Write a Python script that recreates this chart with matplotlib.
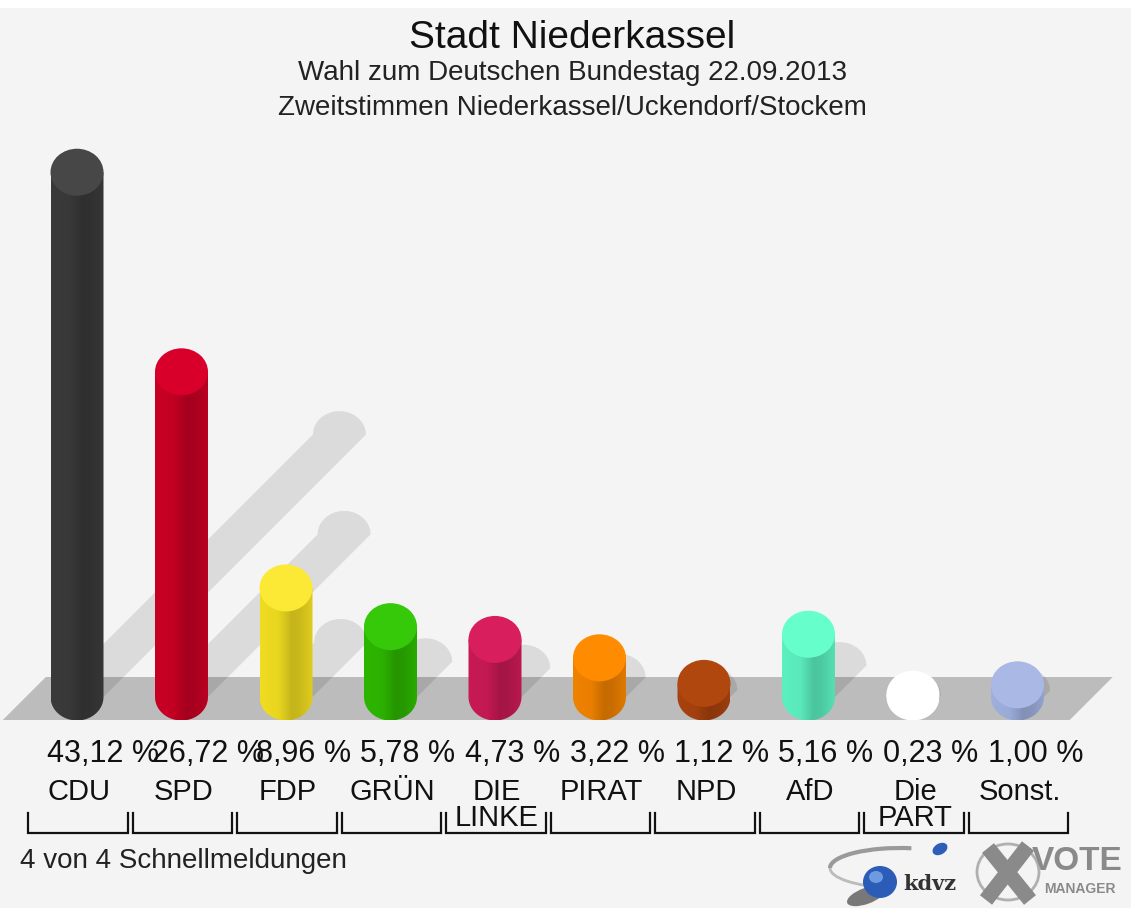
import numpy as np
import matplotlib
matplotlib.use('Agg')
import matplotlib.pyplot as plt
from matplotlib.patches import Ellipse, PathPatch, Polygon, Rectangle, Arc
from matplotlib.path import Path
from matplotlib.colors import to_rgb

plt.rcParams['font.family'] = ['Liberation Sans', 'DejaVu Sans']

titel = 'Stadt Niederkassel'
untertitel = ['Wahl zum Deutschen Bundestag 22.09.2013',
              'Zweitstimmen Niederkassel/Uckendorf/Stockem']
parteien = ['CDU', 'SPD', 'FDP', 'GRÜN', 'DIE\nLINKE', 'PIRAT', 'NPD', 'AfD', 'Die\nPART', 'Sonst.']
werte = [43.12, 26.72, 8.96, 5.78, 4.73, 3.22, 1.12, 5.16, 0.23, 1.00]
farben = ['#3a3a3a', '#c80024', '#f0dc20', '#2db600', '#c81a55',
          '#f08200', '#a8420f', '#5cf0c0', '#ffffff', '#9fb0de']
deckel = ['#474747', '#d8002a', '#fbe935', '#36c90a', '#d81e5c',
          '#ff8c00', '#b0470f', '#66ffcc', '#ffffff', '#a9b8e4']
fussnote = '4 von 4 Schnellmeldungen'

W, H = 1131, 908
PX_X = 104.5   # pixel je Kategorie
PX_Y = 12.17   # pixel je Prozentpunkt
BASIS = 697    # pixelzeile fuer 0 %

fig = plt.figure(figsize=(W / 100, H / 100), dpi=100, facecolor='#f4f4f4')
ax = fig.add_axes([0, 0, 1, 1])
ax.set_facecolor('#f4f4f4')
xlim = (-77 / PX_X, (W - 77) / PX_X)
ylim = ((BASIS - H) / PX_Y, BASIS / PX_Y)

def py(p):
    return 1 - p / H

n = len(werte)
w = 53 / PX_X          # breite der Saeule
ry = 23.5 / PX_Y       # halbe Hoehe der Ellipse

# Boden
fy0, fy1 = -23 / PX_Y, 20 / PX_Y
schraeg = 43 / PX_X
boden = Polygon([(-0.71, fy0), (n - 0.5, fy0), (n - 0.5 + schraeg, fy1), (-0.71 + schraeg, fy1)],
                closed=True, facecolor='#bcbcbc', edgecolor='none', zorder=1)
ax.add_patch(boden)

# Schatten
for i, v in enumerate(werte):
    d = v * PX_Y / 2
    dx, dy = d / PX_X, d / PX_Y
    th = np.linspace(0, np.pi, 30)
    spitze = np.column_stack([i + dx + w / 2 * np.cos(th), dy + ry * np.sin(th)])
    pts = np.vstack([[i - w / 2, 0], [i + w / 2, 0], spitze])
    ax.add_patch(Polygon(pts, closed=True, facecolor='black', alpha=0.1,
                         edgecolor='none', zorder=2))

# Saeulen
t = np.linspace(0, 1, 80)
f = np.interp(t, [0, 0.35, 0.6, 0.75, 1], [1.0, 0.97, 0.82, 0.84, 0.93])
for i, (v, c, cd) in enumerate(zip(werte, farben, deckel)):
    th = np.linspace(np.pi, 2 * np.pi, 40)
    unten = np.column_stack([i + w / 2 * np.cos(th), ry * np.sin(th)])
    pts = np.vstack([[i - w / 2, v], unten, [i + w / 2, v], [i - w / 2, v]])
    pfad = Path(pts)
    clip = PathPatch(pfad, facecolor='none', edgecolor='none', transform=ax.transData)
    ax.add_patch(clip)
    if c == '#ffffff':
        grad = np.ones((1, 80, 3))
    else:
        grad = np.clip(np.array(to_rgb(c))[None, None, :] * f[None, :, None], 0, 1)
    im = ax.imshow(grad, extent=[i - w / 2, i + w / 2, -ry, v], aspect='auto',
                   interpolation='bilinear', zorder=3)
    im.set_clip_path(clip)
    ax.add_patch(Ellipse((i, v), w, 2 * ry, facecolor=cd, edgecolor='none', zorder=4))

ax.set_xlim(*xlim)
ax.set_ylim(*ylim)
ax.axis('off')

tr = ax.get_xaxis_transform()
for i, (v, name) in enumerate(zip(werte, parteien)):
    ax.text(i - 30 / PX_X, py(754), f'{v:.2f} %'.replace('.', ','), transform=tr,
            ha='left', va='center', fontsize=22, color='#111111')
    zeilen = name.split('\n')
    ax.text(i + 0.02, py(792), zeilen[0], transform=tr, ha='center', va='center',
            fontsize=21, color='#111111')
    if len(zeilen) > 1:
        ax.text(i + 0.02, py(818), zeilen[1], transform=tr, ha='center', va='center',
                fontsize=21, color='#111111')
    l, r = i + 0.01 - 0.478, i + 0.01 + 0.478
    ax.plot([l, l, r, r], [py(813), py(833), py(833), py(813)], transform=tr,
            color='#111111', lw=1.6, solid_joinstyle='miter')

# Titel
fig.text(572 / W, py(38), titel, ha='center', va='center', fontsize=28, color='#111111')
fig.text(572 / W, py(73), untertitel[0], ha='center', va='center', fontsize=20, color='#222222')
fig.text(572 / W, py(108), untertitel[1], ha='center', va='center', fontsize=20, color='#222222')
fig.text(20 / W, py(861), fussnote, ha='left', va='center', fontsize=20, color='#222222')

# oberer weisser Rand
fig.patches.append(Rectangle((0, py(8)), 1, 1, transform=fig.transFigure,
                             facecolor='white', edgecolor='none', zorder=0))

# Logos
lg = fig.add_axes([0, 0, 1, 1])
lg.set_xlim(0, W)
lg.set_ylim(H, 0)
lg.axis('off')
lg.add_patch(Arc((900, 868), 140, 40, theta1=180, theta2=300, color='#9a9a9a', lw=3))
lg.add_patch(Arc((900, 868), 140, 40, theta1=120, theta2=180, color='#bbbbbb', lw=2))
lg.add_patch(Ellipse((940, 849), 16, 11, angle=-30, facecolor='#2c5fb5', edgecolor='none'))
lg.add_patch(Ellipse((866, 896), 40, 16, angle=-20, facecolor='#444444', edgecolor='none', alpha=0.7))
lg.add_patch(Ellipse((880, 882), 34, 32, facecolor='#2a5cb8', edgecolor='none'))
lg.add_patch(Ellipse((876, 877), 14, 12, facecolor='#6e9ae0', edgecolor='none'))
lg.text(930, 884, 'kdvz', ha='center', va='center', fontsize=15, fontweight='bold',
        family='DejaVu Serif', color='#333333')
lg.add_patch(Ellipse((1008, 872), 62, 56, facecolor='none', edgecolor='#b0b0b0', lw=2))
lg.plot([988, 1030], [848, 900], color='#8a8a8a', lw=11, solid_capstyle='butt')
lg.plot([1028, 986], [846, 900], color='#8a8a8a', lw=11, solid_capstyle='butt')
lg.text(1077, 861, 'VOTE', ha='center', va='center', fontsize=24, fontweight='bold', color='#8a8a8a')
lg.text(1080, 889, 'MANAGER', ha='center', va='center', fontsize=10, fontweight='bold', color='#8a8a8a')

fig.savefig('out.png', dpi=100, facecolor=fig.get_facecolor())
